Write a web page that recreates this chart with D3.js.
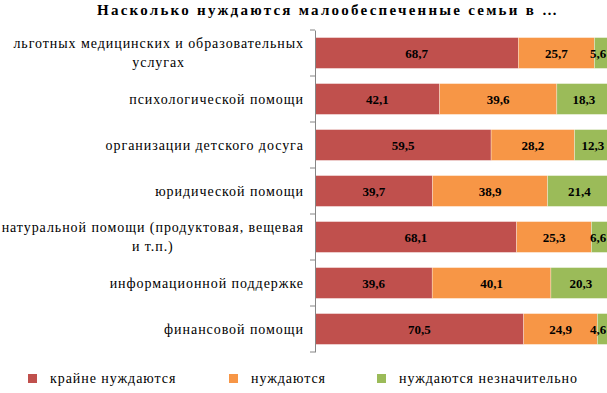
<!DOCTYPE html>
<html><head><meta charset="utf-8">
<script src="https://cdn.jsdelivr.net/npm/d3@7"></script>
<style>body{margin:0;background:#fff}svg{display:block}</style>
</head><body>
<svg id="c" width="607" height="393"></svg>
<script>
const title = "Насколько нуждаются малообеспеченные семьи в …";
const categories = [
  ["льготных медицинских и образовательных", "услугах"],
  ["психологической помощи"],
  ["организации детского досуга"],
  ["юридической помощи"],
  ["натуральной помощи (продуктовая, вещевая", "и т.п.)"],
  ["информационной поддержке"],
  ["финансовой помощи"]
];
const seriesNames = ["крайне нуждаются", "нуждаются", "нуждаются незначительно"];
const extreme = [68.7, 42.1, 59.5, 39.7, 68.1, 39.6, 70.5];
const need = [25.7, 39.6, 28.2, 38.9, 25.3, 40.1, 24.9];
const slight = [5.6, 18.3, 12.3, 21.4, 6.6, 20.3, 4.6];
const colors = ["#C0504D", "#F79646", "#9BBB59"];

const FONT = '"Liberation Serif"';
const svg = d3.select("#c");
const x = d3.scaleLinear().domain([0, 100]).range([315, 611]);
const ids = categories.map((d, i) => i);
const y = d3.scaleBand().domain(ids).range([30, 352]).paddingInner(0.33).paddingOuter(0.165);

function txt(parent) {
  return parent.append("text").style("font-family", FONT).attr("fill", "#000");
}
function spacingFor(str, size, weight, target) {
  const t = txt(svg).style("font-size", size + "px").style("font-weight", weight).text(str);
  const w = t.node().getComputedTextLength();
  t.remove();
  return (target - w) / (str.length - 1);
}

const titleLs = spacingFor(title, 15, "bold", 460);
txt(svg).attr("x", 97).attr("y", 15).style("font-weight", "bold").style("font-size", "15px")
  .style("letter-spacing", titleLs + "px").text(title);

const series = [extreme, need, slight];
const stackData = ids.map(i => ({i, v: series.map(s => s[i])}));
const stack = d3.stack().keys([0, 1, 2]).value((d, k) => d.v[k]);
const layers = stack(stackData);

const g = svg.append("g");
layers.forEach((layer, k) => {
  g.selectAll(null).data(layer).enter().append("rect")
    .attr("x", d => x(d[0])).attr("y", d => y(d.data.i))
    .attr("width", d => x(d[1]) - x(d[0])).attr("height", y.bandwidth())
    .attr("fill", colors[k]).attr("stroke", "#fff").attr("stroke-opacity", 0.5).attr("stroke-width", 0.6);
});
layers.forEach((layer, k) => {
  layer.forEach(d => {
    const c = Math.min((x(d[0]) + x(d[1])) / 2, 598);
    txt(g).attr("x", c).attr("y", y(d.data.i) + y.bandwidth() / 2 + 4.5)
      .attr("text-anchor", "middle").style("font-weight", "bold").style("font-size", "13px")
      .text(String(d.data.v[k]).replace(".", ","));
  });
});

// axis
const axis = d3.axisLeft(d3.scaleBand().domain(ids).range([30, 352])).tickSize(0).tickFormat("");
const ag = svg.append("g").attr("transform", "translate(315,0)").call(axis);
ag.select(".domain").attr("stroke", "#868686");
const edges = d3.range(categories.length + 1).map(i => 30 + i * (322 / categories.length));
ag.selectAll(".tk").data(edges).enter().append("line").attr("class", "tk")
  .attr("x1", -5).attr("x2", 0).attr("y1", d => d).attr("y2", d => d).attr("stroke", "#868686");

// category labels
const labLs = (spacingFor(categories[1][0], 14, "normal", 175) + spacingFor(categories[4][0], 14, "normal", 299)) / 2;
ids.forEach(i => {
  const lines = categories[i];
  const cy = y(i) + y.bandwidth() / 2;
  const lh = 19;
  const texts = lines.map((ln, j) => txt(svg)
    .attr("y", cy + (j - (lines.length - 1) / 2) * lh + 4.5)
    .style("font-size", "14px").style("letter-spacing", labLs + "px")
    .attr("text-anchor", "middle").text(ln));
  const maxW = d3.max(texts.map(t => t.node().getComputedTextLength()));
  const center = 303 + labLs - maxW / 2;
  texts.forEach(t => t.attr("x", center));
});

// legend
const legX = [28, 229, 377];
seriesNames.forEach((n, k) => {
  svg.append("rect").attr("x", legX[k]).attr("y", 374).attr("width", 9).attr("height", 9).attr("fill", colors[k]);
  txt(svg).attr("x", legX[k] + 22).attr("y", 383)
    .style("font-size", "14px").style("letter-spacing", labLs + "px").text(n);
});
</script>
</body></html>
